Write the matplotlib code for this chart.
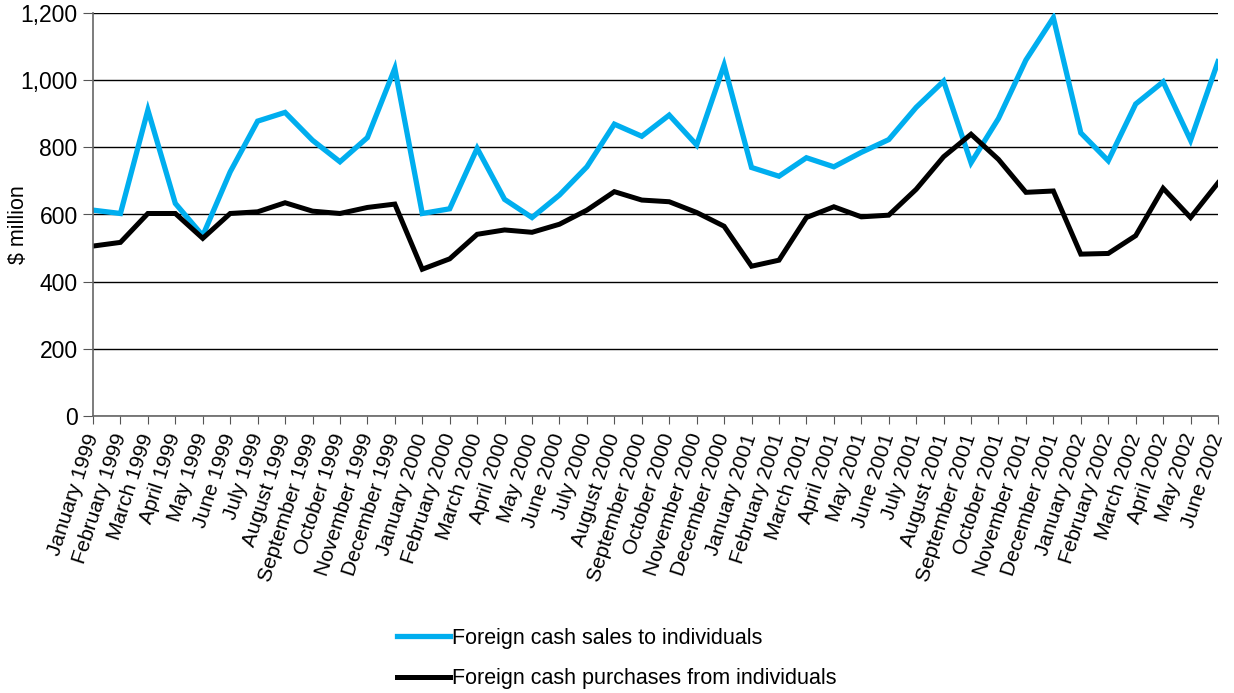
import matplotlib
matplotlib.use("Agg")
import matplotlib.pyplot as plt
import numpy as np

plt.rcParams['font.family'] = ['Liberation Sans', 'DejaVu Sans']

months = ['January', 'February', 'March', 'April', 'May', 'June', 'July',
          'August', 'September', 'October', 'November', 'December']
labels = [m + ' ' + str(y) for y in (1999, 2000, 2001) for m in months]
labels += [m + ' 2002' for m in months[:6]]

# foreign cash sales to individuals, $ million
sales = [613, 603, 911, 633, 537, 727, 878, 904, 821, 757, 829, 1035,
         603, 617, 797, 645, 591, 658, 742, 869, 833, 896, 807, 1045,
         740, 714, 769, 742, 785, 823, 919, 997, 754, 886, 1060, 1186,
         843, 760, 929, 995, 821, 1055]
# foreign cash purchases from individuals, $ million
purchases = [506, 517, 603, 603, 529, 603, 608, 635, 610, 603, 621, 631,
             437, 468, 541, 554, 547, 571, 613, 668, 643, 638, 606, 565,
             446, 464, 591, 623, 593, 598, 675, 772, 839, 764, 666, 670,
             482, 484, 537, 678, 591, 694]

x = np.arange(len(labels))

fig = plt.figure(figsize=(12.34, 6.93), dpi=100)
ax = fig.add_axes([93/1234, 1-416/693, (1218-93)/1234, (416-13)/693])

ax.plot(x, sales, color='#00aeef', lw=3.8, solid_joinstyle='miter',
        label='Foreign cash sales to individuals')
ax.plot(x, purchases, color='black', lw=3.6, solid_joinstyle='miter',
        label='Foreign cash purchases from individuals')

ax.set_xlim(0, len(labels)-1)
ax.set_ylim(0, 1200)
ax.set_yticks(range(0, 1201, 200))
ax.set_yticklabels(['{:,}'.format(v) for v in range(0, 1201, 200)], fontsize=16.5)
ax.set_xticks(x)
ax.set_xticklabels(labels, rotation=72, ha='right', va='center',
                   rotation_mode='anchor', fontsize=15)
ax.tick_params(axis='x', length=6, pad=7, color='#555555')
ax.tick_params(axis='y', length=7, pad=4, color='#555555')
ax.yaxis.grid(True, color='black', lw=1)
ax.set_axisbelow(True)
for s in ('top', 'right'):
    ax.spines[s].set_visible(False)
for s in ('left', 'bottom'):
    ax.spines[s].set_color('#666666')
    ax.spines[s].set_linewidth(1.2)

fig.text(18/1234, 1-225/693, '$ million', rotation=90, fontsize=15.5,
         ha='center', va='center')

fig.legend(loc='upper left', bbox_to_anchor=(397/1234, 1-628/693),
           frameon=False, fontsize=15.5, handlelength=2.45, handletextpad=0.12,
           labelspacing=0.9, borderpad=0, borderaxespad=0)

fig.savefig('out.png', dpi=100)
